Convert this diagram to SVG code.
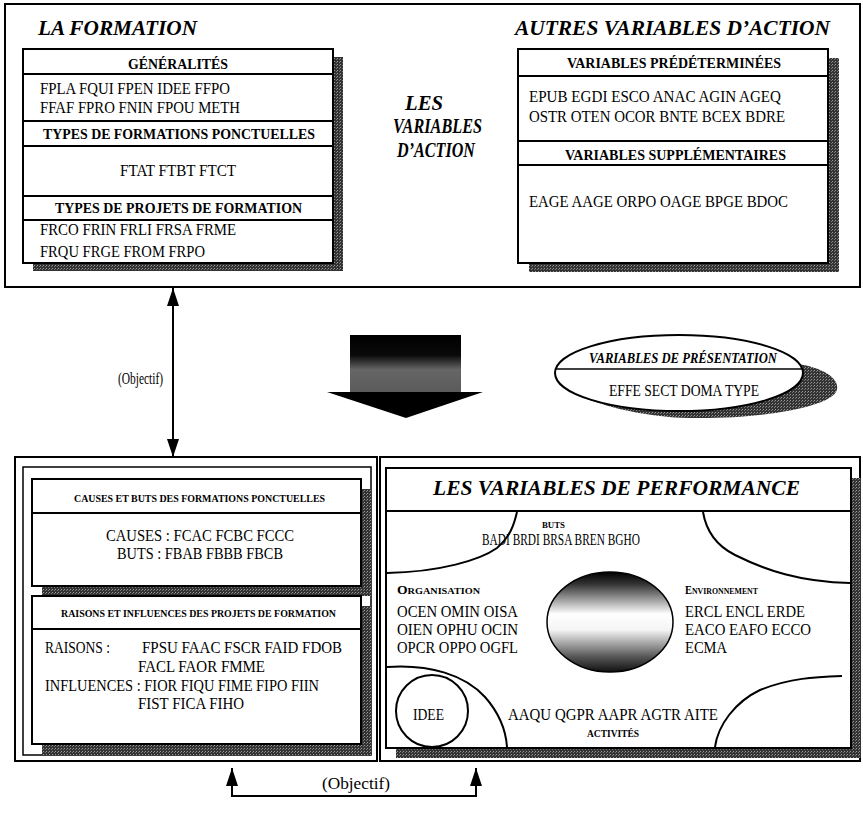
<svg xmlns="http://www.w3.org/2000/svg" width="863" height="822" viewBox="0 0 863 822" font-family="'Liberation Serif', 'Times New Roman', serif" xml:space="preserve">
<style>
text{font-family:"Liberation Serif","Times New Roman",serif;fill:#000}
.t{font-size:20px;font-weight:bold;font-style:italic}
.h{font-size:14px;font-weight:bold}
.hs{font-size:11px;font-weight:bold}
.v{font-size:17px}
.box{fill:#fff;stroke:#000;stroke-width:2}
.ln{stroke:#000;stroke-width:2;fill:none}
.frame{fill:none;stroke:#000;stroke-width:2}
.sh{fill:url(#stip);stroke:none}
.cv{fill:none;stroke:#000;stroke-width:2}
</style>
<defs>
<pattern id="stip" width="3" height="3" patternUnits="userSpaceOnUse">
<rect width="3" height="3" fill="#333"/><rect x="1" y="1" width="1" height="1" fill="#999"/><rect x="0" y="2" width="1" height="1" fill="#777"/>
</pattern>
<linearGradient id="shaft" x1="0" y1="0" x2="0" y2="1">
<stop offset="0" stop-color="#000"/><stop offset="0.35" stop-color="#0a0a0a"/><stop offset="0.6" stop-color="#666"/><stop offset="1" stop-color="#5a5a5a"/>
</linearGradient>
<linearGradient id="globe" x1="0" y1="0" x2="0" y2="1">
<stop offset="0" stop-color="#000"/><stop offset="0.12" stop-color="#333"/><stop offset="0.42" stop-color="#fff"/><stop offset="0.58" stop-color="#f4f4f4"/><stop offset="0.85" stop-color="#555"/><stop offset="1" stop-color="#111"/>
</linearGradient>
<marker id="ah" viewBox="0 0 18 12" refX="18" refY="6" markerWidth="18" markerHeight="12" markerUnits="userSpaceOnUse" orient="auto-start-reverse">
<path d="M0,0 L18,6 L0,12 Z" fill="#000"/>
</marker>
</defs>
<rect x="5" y="4" width="855" height="283" class="frame"/>
<g id="la-formation">
<text class="t" x="38" y="35" textLength="159" lengthAdjust="spacingAndGlyphs">LA FORMATION</text>
<rect x="33" y="57" width="310" height="214" class="sh"/>
<rect x="23" y="49" width="310" height="214" class="box"/>
<line x1="23" y1="74" x2="333" y2="74" class="ln"/>
<line x1="23" y1="121" x2="333" y2="121" class="ln"/>
<line x1="23" y1="146" x2="333" y2="146" class="ln"/>
<line x1="23" y1="196" x2="333" y2="196" class="ln"/>
<line x1="23" y1="220" x2="333" y2="220" class="ln"/>
<text class="h" x="128" y="69" textLength="100" lengthAdjust="spacingAndGlyphs">GÉNÉRALITÉS</text>
<text class="v" x="40" y="94" textLength="190" lengthAdjust="spacingAndGlyphs">FPLA  FQUI  FPEN  IDEE  FFPO</text>
<text class="v" x="40" y="113" textLength="200" lengthAdjust="spacingAndGlyphs">FFAF  FPRO  FNIN  FPOU  METH</text>
<text class="h" x="43" y="139" textLength="272" lengthAdjust="spacingAndGlyphs">TYPES DE FORMATIONS PONCTUELLES</text>
<text class="v" x="120" y="176" textLength="116" lengthAdjust="spacingAndGlyphs">FTAT  FTBT  FTCT</text>
<text class="h" x="55" y="213" textLength="247" lengthAdjust="spacingAndGlyphs">TYPES DE PROJETS DE FORMATION</text>
<text class="v" x="40" y="235" textLength="196" lengthAdjust="spacingAndGlyphs">FRCO  FRIN  FRLI  FRSA  FRME</text>
<text class="v" x="40" y="257" textLength="165" lengthAdjust="spacingAndGlyphs">FRQU  FRGE  FROM  FRPO</text>
</g>
<g id="les-variables-action">
<text class="t" x="405" y="110" textLength="38" lengthAdjust="spacingAndGlyphs">LES</text>
<text class="t" x="393" y="133" textLength="89" lengthAdjust="spacingAndGlyphs">VARIABLES</text>
<text class="t" x="397" y="157" textLength="78" lengthAdjust="spacingAndGlyphs">D’ACTION</text>
</g>
<g id="autres-variables">
<text class="t" x="515" y="35" textLength="315" lengthAdjust="spacingAndGlyphs">AUTRES VARIABLES D’ACTION</text>
<rect x="529" y="58" width="310" height="214" class="sh"/>
<rect x="518" y="49" width="310" height="214" class="box"/>
<line x1="518" y1="76" x2="828" y2="76" class="ln"/>
<line x1="518" y1="141" x2="828" y2="141" class="ln"/>
<line x1="518" y1="165" x2="828" y2="165" class="ln"/>
<text class="h" x="567" y="68" textLength="214" lengthAdjust="spacingAndGlyphs">VARIABLES PRÉDÉTERMINÉES</text>
<text class="v" x="529" y="102" textLength="252" lengthAdjust="spacingAndGlyphs">EPUB  EGDI  ESCO  ANAC  AGIN  AGEQ</text>
<text class="v" x="529" y="122" textLength="256" lengthAdjust="spacingAndGlyphs">OSTR  OTEN  OCOR  BNTE  BCEX  BDRE</text>
<text class="h" x="565" y="160" textLength="221" lengthAdjust="spacingAndGlyphs">VARIABLES SUPPLÉMENTAIRES</text>
<text class="v" x="529" y="207" textLength="259" lengthAdjust="spacingAndGlyphs">EAGE  AAGE  ORPO  OAGE  BPGE  BDOC</text>
</g>
<g id="big-arrow">
<rect x="350" y="335" width="111" height="58" fill="url(#shaft)"/>
<polygon points="327,392 483,392 406,418" fill="#000"/>
</g>
<g id="variables-presentation">
<path d="M798,364 C825,368 842,380 836,392 C826,408 760,419 690,418 C640,417 598,405 568,391 L680,385 Z" fill="url(#stip)"/>
<ellipse cx="679" cy="373" rx="124" ry="38" fill="#fff" stroke="#000" stroke-width="2"/>
<line x1="556" y1="369" x2="802" y2="369" stroke="#000" stroke-width="1.5"/>
<text x="589" y="363" font-size="15" font-weight="bold" font-style="italic" textLength="188" lengthAdjust="spacingAndGlyphs">VARIABLES DE PRÉSENTATION</text>
<text x="609" y="396" font-size="16" textLength="150" lengthAdjust="spacingAndGlyphs">EFFE SECT  DOMA  TYPE</text>
</g>
<rect x="15" y="457" width="362" height="304" class="frame"/>
<rect x="380" y="457" width="480" height="304" class="frame"/>
<g id="causes-buts">
<rect x="23" y="467" width="348" height="288" fill="none" stroke="#000" stroke-width="1.5"/>
<rect x="42" y="489" width="329" height="107" class="sh"/>
<rect x="32" y="479" width="329" height="107" class="box"/>
<line x1="32" y1="513" x2="361" y2="513" class="ln"/>
<text class="hs" x="74" y="502" textLength="251" lengthAdjust="spacingAndGlyphs">CAUSES ET BUTS DES FORMATIONS PONCTUELLES</text>
<text class="v" x="106" y="541" textLength="188" lengthAdjust="spacingAndGlyphs">CAUSES :  FCAC  FCBC  FCCC</text>
<text class="v" x="117" y="559" textLength="166" lengthAdjust="spacingAndGlyphs">BUTS : FBAB  FBBB  FBCB</text>
</g>
<g id="raisons-influences">
<rect x="42" y="606" width="329" height="149" class="sh"/>
<rect x="32" y="596" width="329" height="148" class="box"/>
<line x1="32" y1="629" x2="361" y2="629" class="ln"/>
<text class="hs" x="61" y="617" textLength="275" lengthAdjust="spacingAndGlyphs">RAISONS ET INFLUENCES DES PROJETS DE FORMATION</text>
<text class="v" x="45" y="653" textLength="65" lengthAdjust="spacingAndGlyphs">RAISONS :</text>
<text class="v" x="142" y="653" textLength="200" lengthAdjust="spacingAndGlyphs">FPSU  FAAC  FSCR  FAID  FDOB</text>
<text class="v" x="138" y="672" textLength="127" lengthAdjust="spacingAndGlyphs">FACL  FAOR  FMME</text>
<text class="v" x="45" y="691" textLength="274" lengthAdjust="spacingAndGlyphs">INFLUENCES : FIOR  FIQU  FIME  FIPO  FIIN</text>
<text class="v" x="138" y="709" textLength="106" lengthAdjust="spacingAndGlyphs">FIST  FICA  FIHO</text>
</g>
<g id="performance">
<rect x="396" y="478" width="465" height="280" class="sh"/>
<rect x="386" y="468" width="465" height="280" class="box"/>
<line x1="386" y1="511" x2="851" y2="511" class="ln"/>
<text class="t" x="433" y="495" textLength="367" lengthAdjust="spacingAndGlyphs">LES VARIABLES DE PERFORMANCE</text>
<path class="cv" d="M387,573 C440,572 480,560 497,548 C510,537 514,525 517,512"/>
<path class="cv" d="M703,512 C706,530 715,545 735,555 C765,570 800,582 850,583"/>
<path class="cv" d="M387,667 C430,664 465,675 485,697 C500,714 506,732 507,747"/>
<path class="cv" d="M715,747 C718,725 735,702 760,690 C790,678 815,677 842,676"/>
<ellipse cx="610" cy="622" rx="63" ry="50" fill="url(#globe)" stroke="#000" stroke-width="1.5"/>
<circle cx="432" cy="711" r="36" fill="#fff" stroke="#000" stroke-width="2"/>
<text x="542" y="528" font-size="9" font-weight="bold" textLength="23" lengthAdjust="spacingAndGlyphs">BUTS</text>
<text class="v" x="482" y="545" textLength="158" lengthAdjust="spacingAndGlyphs">BADI BRDI BRSA BREN BGHO</text>
<text x="397" y="594" font-weight="bold" textLength="83" lengthAdjust="spacingAndGlyphs"><tspan font-size="12">O</tspan><tspan font-size="9">RGANISATION</tspan></text>
<text class="v" x="397" y="617" textLength="121" lengthAdjust="spacingAndGlyphs">OCEN  OMIN  OISA</text>
<text class="v" x="397" y="635" textLength="121" lengthAdjust="spacingAndGlyphs">OIEN  OPHU  OCIN</text>
<text class="v" x="397" y="653" textLength="121" lengthAdjust="spacingAndGlyphs">OPCR  OPPO  OGFL</text>
<text x="685" y="594" font-weight="bold" textLength="73" lengthAdjust="spacingAndGlyphs"><tspan font-size="12">E</tspan><tspan font-size="9">NVIRONNEMENT</tspan></text>
<text class="v" x="685" y="617" textLength="120" lengthAdjust="spacingAndGlyphs">ERCL  ENCL  ERDE</text>
<text class="v" x="685" y="635" textLength="126" lengthAdjust="spacingAndGlyphs">EACO  EAFO  ECCO</text>
<text class="v" x="685" y="653" textLength="42" lengthAdjust="spacingAndGlyphs">ECMA</text>
<text class="v" x="413" y="720" textLength="31" lengthAdjust="spacingAndGlyphs">IDEE</text>
<text class="v" x="508" y="720" textLength="210" lengthAdjust="spacingAndGlyphs">AAQU  QGPR  AAPR  AGTR  AITE</text>
<text x="587" y="737" font-size="10" font-weight="bold" textLength="52" lengthAdjust="spacingAndGlyphs">ACTIVITÉS</text>
</g>
<g id="connectors">
<line x1="173" y1="288" x2="173" y2="457" stroke="#000" stroke-width="2" marker-start="url(#ah)" marker-end="url(#ah)"/>
<text x="118" y="384" font-size="16" textLength="45" lengthAdjust="spacingAndGlyphs">(Objectif)</text>
<polyline points="232,768 232,796 476,796 476,768" fill="none" stroke="#000" stroke-width="2" marker-start="url(#ah)" marker-end="url(#ah)"/>
<text x="322" y="789" font-size="16" textLength="68" lengthAdjust="spacingAndGlyphs">(Objectif)</text>
</g>
</svg>
